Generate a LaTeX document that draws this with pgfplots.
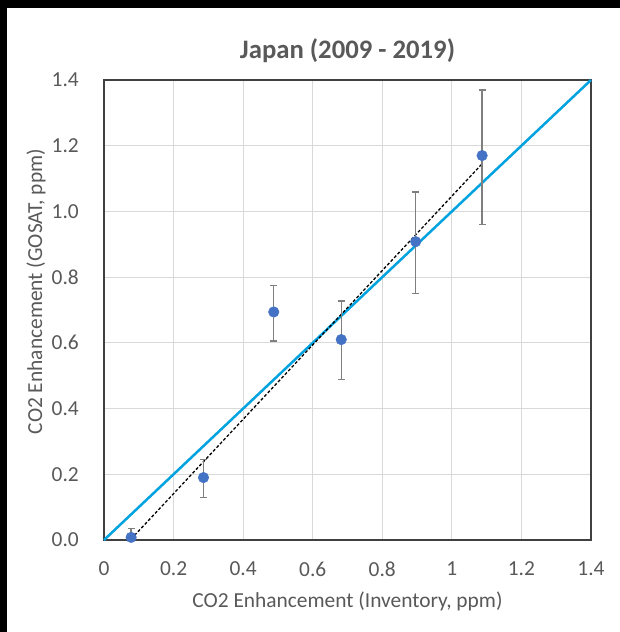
\documentclass[border=0pt]{standalone}
\usepackage{pgfplots}
\pgfplotsset{compat=1.18}
\usepackage{fontspec}
\setmainfont{Carlito}
\definecolor{txtgray}{HTML}{595959}
\definecolor{gridgray}{HTML}{D9D9D9}
\definecolor{ptblue}{HTML}{4472C4}
\definecolor{lineblue}{HTML}{00A3E0}
\definecolor{errgray}{HTML}{7F7F7F}
\definecolor{axgray}{HTML}{404040}
\begin{document}
\begin{tikzpicture}[x=1pt,y=1pt]
\fill[white] (0,0) rectangle (620,632);
\fill[black] (0,624) rectangle (620,632);
\fill[black] (0,0) rectangle (7,632);
\begin{axis}[
  at={(104pt,92pt)}, anchor=south west,
  scale only axis, width=487pt, height=460pt,
  xmin=0, xmax=1.4, ymin=0, ymax=1.4,
  xtick={0,0.2,0.4,0.6,0.8,1,1.2,1.4},
  ytick={0,0.2,0.4,0.6,0.8,1.0,1.2,1.4},
  /pgf/number format/assume math mode=true,
  grid=major, major grid style={gridgray, line width=1pt},
  axis line style={axgray, line width=1.2pt},
  tick style={draw=none},
  ticklabel style={font=\fontsize{21.4}{25}\selectfont, text=txtgray},
  xticklabel style={anchor=center, yshift=-29pt},
  yticklabel style={anchor=east, inner sep=0pt, xshift=-25pt,
    /pgf/number format/fixed, /pgf/number format/fixed zerofill, /pgf/number format/precision=1},
  title={Japan (2009 - 2019)},
  title style={font=\fontsize{26.7}{31}\selectfont\bfseries, text=txtgray, at={(axis description cs:0.5,1.05)}, anchor=center},
  xlabel={CO2 Enhancement (Inventory, ppm)},
  xlabel style={font=\fontsize{21.4}{25}\selectfont, text=txtgray, at={(axis description cs:0.5,-0.1326)}, anchor=center},
  ylabel={CO2 Enhancement (GOSAT, ppm)},
  ylabel style={font=\fontsize{21.4}{25}\selectfont, text=txtgray, at={(axis description cs:-0.1396,0.540)}, anchor=center, rotate=0},
  clip=false,
]
\addplot[lineblue, line width=2.5pt] coordinates {(0,0) (1.4,1.4)};
\addplot[black, line width=1.3pt, dash pattern=on 3pt off 2pt] coordinates {(0.078,0.003) (1.087,1.145)};
\addplot[only marks, mark=*, mark size=5.3pt, color=ptblue, mark options={draw=ptblue, fill=ptblue},
  error bars/.cd, y dir=both, y explicit,
  error bar style={errgray, line width=1.3pt},
  error mark options={rotate=90, mark size=3.5pt, errgray, line width=1.3pt}]
  table[x=x, y=y, y error plus=ep, y error minus=em] {
x y ep em
0.078 0.008 0.028 0.008
0.286 0.190 0.056 0.061
0.488 0.694 0.080 0.088
0.682 0.610 0.117 0.121
0.896 0.908 0.151 0.157
1.087 1.170 0.200 0.209
};
\end{axis}
\end{tikzpicture}
\end{document}
